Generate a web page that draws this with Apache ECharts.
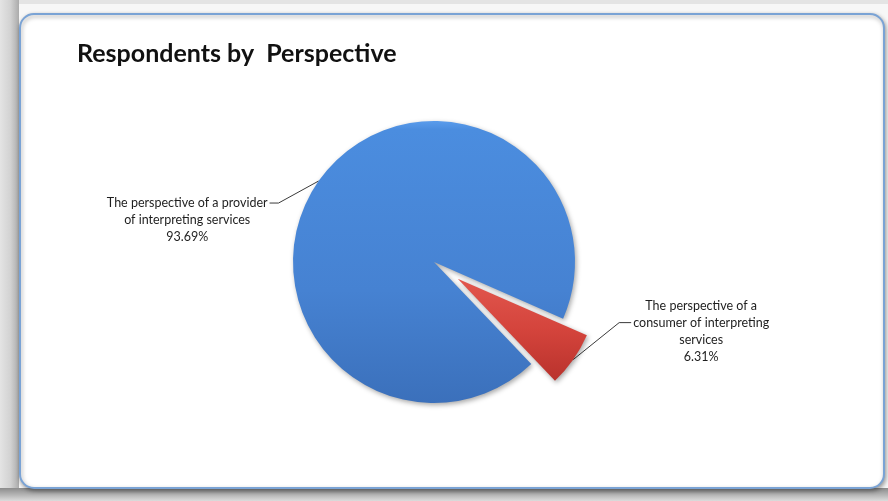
<!DOCTYPE html>
<html>
<head>
<meta charset="utf-8">
<title>Respondents by Perspective</title>
<script src="https://cdn.jsdelivr.net/npm/echarts@6/dist/echarts.min.js"></script>
<style>
  html, body { margin: 0; padding: 0; background: #ffffff; }
  #chart { width: 888px; height: 501px; }
</style>
</head>
<body>
<div id="chart"></div>
<script>
// Survey breakdown: share of respondents by the perspective they answered from
const categories = [
  'The perspective of a provider\nof interpreting services',
  'The perspective of a\nconsumer of interpreting\nservices'
];
const shares = [93.69, 6.31];
const titleText = 'Respondents by  Perspective';

const chart = echarts.init(document.getElementById('chart'), null, { renderer: 'canvas' });

// pie geometry
const PIE_CENTER = [434, 262];
const PIE_RADIUS = 141;
const START_ANGLE = 313.6;     // degrees, clockwise sweep
const EXPLODE = 29;            // pull-out distance of the small slice
const EXPLODED_INDEX = 1;

// centre of the pulled-out slice: shifted along that slice's bisector
const total = shares.reduce((a, b) => a + b, 0);
const before = shares.slice(0, EXPLODED_INDEX).reduce((a, b) => a + b, 0);
const midDeg = START_ANGLE - (before + shares[EXPLODED_INDEX] / 2) / total * 360;
const midRad = midDeg * Math.PI / 180;
const explodedCenter = [
  PIE_CENTER[0] + Math.cos(midRad) * EXPLODE,
  PIE_CENTER[1] - Math.sin(midRad) * EXPLODE
];

const LINE_H = 17;
// leader line shape per slice: [knee dx, knee dy, tail dx]
const leaderBends = [[-40, 22, -9], [46, -37, 12]];
// text row the leader meets (0-based)
const leaderRow = [0, 1];

const sliceColors = [
  new echarts.graphic.LinearGradient(0, 0, 0, 1, [
    { offset: 0, color: '#5a9cec' },
    { offset: 0.03, color: '#4b8ddf' },
    { offset: 0.6, color: '#4682d2' },
    { offset: 1, color: '#3b70bb' }
  ]),
  new echarts.graphic.LinearGradient(0, 0, 0, 1, [
    { offset: 0, color: '#e2574e' },
    { offset: 0.5, color: '#d4443c' },
    { offset: 1, color: '#b9322c' }
  ])
];

const labelStyle = {
  show: true,
  fontFamily: 'Lato',
  fontSize: 12.5,
  lineHeight: LINE_H,
  color: '#1e1e1e',
  align: 'center',
  formatter: (p) => p.name + '\n' + p.value.toFixed(2) + '%'
};

function layoutLabel(params) {
  const i = params.dataIndex;
  const pts = params.labelLinePoints;
  if (!pts) return {};
  const p0 = pts[0];
  const b = leaderBends[i];
  const p1 = [p0[0] + b[0], p0[1] + b[1]];
  const p2 = [p1[0] + b[2], p1[1]];
  const w = params.labelRect.width;
  const gap = 2;
  const cx = b[2] < 0 ? p2[0] - gap - w / 2 : p2[0] + gap + w / 2;
  const top = p2[1] - LINE_H * (leaderRow[i] + 0.5);
  return { x: cx, y: top, align: 'center', verticalAlign: 'top', labelLinePoints: [p0, p1, p2] };
}

const hidden = {
  itemStyle: { color: 'rgba(0,0,0,0)', shadowBlur: 0 },
  label: { show: false },
  labelLine: { show: false }
};

function pieSeries(center, shownIndex) {
  return {
    type: 'pie',
    center: center,
    radius: PIE_RADIUS,
    startAngle: START_ANGLE,
    clockwise: true,
    silent: true,
    avoidLabelOverlap: false,
    emphasis: { disabled: true },
    itemStyle: { shadowBlur: 5, shadowColor: 'rgba(0,0,0,0.35)', shadowOffsetX: 1.5, shadowOffsetY: 2 },
    label: labelStyle,
    labelLine: { show: true, length: 10, length2: 10, lineStyle: { color: '#3a3a3a', width: 1 } },
    labelLayout: layoutLabel,
    data: categories.map((name, i) => Object.assign(
      { name: name, value: shares[i] },
      shownIndex(i) ? { itemStyle: { color: sliceColors[i] } } : hidden
    ))
  };
}

const option = {
  animation: false,
  graphic: [
    // bevelled outer frame
    { type: 'rect', z: -10, shape: { x: 0, y: 0, width: 888, height: 501 }, style: { fill: '#f7f7f7' }, silent: true },
    { type: 'rect', z: -9, shape: { x: 0, y: 0, width: 888, height: 4 }, style: { fill: '#e4e4e4' }, silent: true },
    {
      type: 'rect', z: -9, shape: { x: 0, y: 0, width: 19, height: 501 }, silent: true,
      style: { fill: new echarts.graphic.LinearGradient(0, 0, 1, 0, [
        { offset: 0, color: '#e4e4e4' }, { offset: 0.55, color: '#d2d2d2' }, { offset: 1, color: '#ababab' }
      ]) }
    },
    {
      type: 'rect', z: -9, shape: { x: 0, y: 488, width: 888, height: 13 }, silent: true,
      style: { fill: new echarts.graphic.LinearGradient(0, 0, 0, 1, [
        { offset: 0, color: '#8c8c8c' }, { offset: 0.5, color: '#b3b3b3' }, { offset: 1, color: '#dcdcdc' }
      ]) }
    },
    // white chart area with blue rounded border
    {
      type: 'rect', z: -5, silent: true,
      shape: { x: 20, y: 14, width: 864, height: 474, r: 14 },
      style: { fill: '#ffffff', stroke: '#7aa3d5', lineWidth: 2, shadowBlur: 4, shadowColor: 'rgba(0,0,0,0.35)', shadowOffsetX: 1, shadowOffsetY: 2 }
    }
  ],
  title: {
    text: titleText,
    left: 72,
    top: 36,
    textStyle: { fontFamily: 'Lato', fontWeight: 'bold', fontSize: 25, color: '#111111' }
  },
  series: [
    pieSeries(PIE_CENTER, (i) => i !== EXPLODED_INDEX),
    pieSeries(explodedCenter, (i) => i === EXPLODED_INDEX)
  ]
};

chart.setOption(option);
</script>
</body>
</html>
